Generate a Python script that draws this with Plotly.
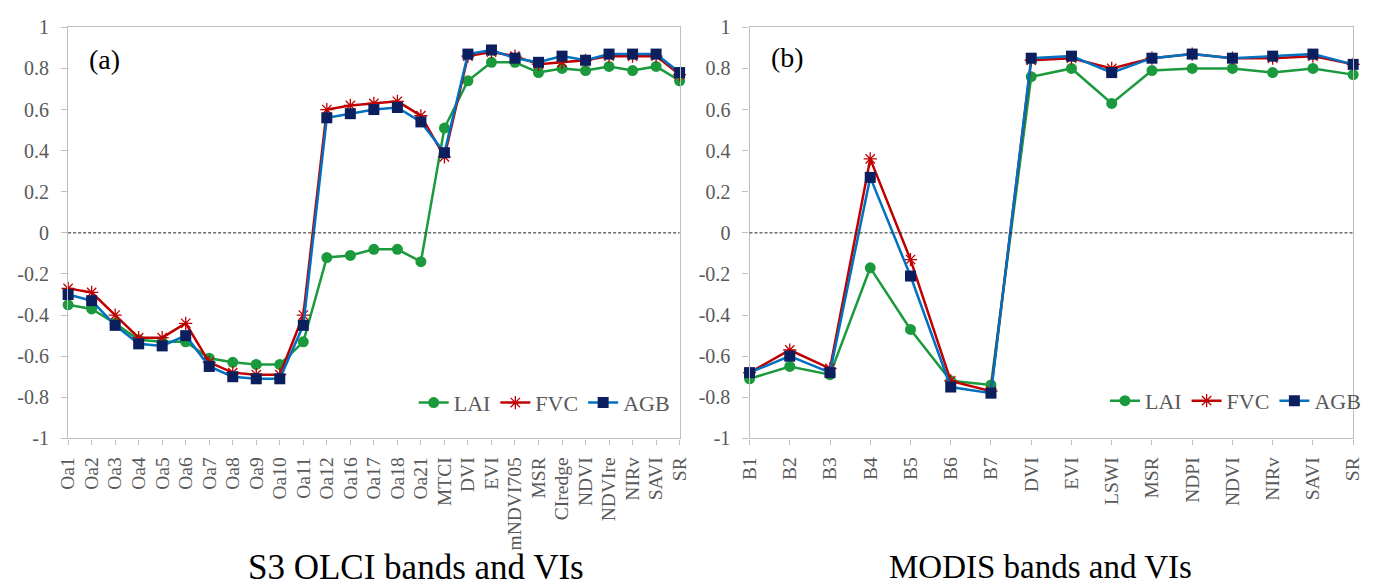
import plotly.graph_objects as go

# ---------------- data ----------------
cats_a = ["Oa1", "Oa2", "Oa3", "Oa4", "Oa5", "Oa6", "Oa7", "Oa8", "Oa9", "Oa10", "Oa11",
          "Oa12", "Oa16", "Oa17", "Oa18", "Oa21", "MTCI", "DVI", "EVI", "mNDVI705", "MSR",
          "CIredge", "NDVI", "NDVIre", "NIRv", "SAVI", "SR"]
lai_a = [-0.35, -0.37, -0.44, -0.52, -0.53, -0.53, -0.61, -0.63, -0.64, -0.64, -0.53,
         -0.12, -0.11, -0.08, -0.08, -0.14, 0.51, 0.74, 0.83, 0.83, 0.78,
         0.80, 0.79, 0.81, 0.79, 0.81, 0.74]
fvc_a = [-0.27, -0.29, -0.40, -0.51, -0.51, -0.44, -0.63, -0.68, -0.69, -0.69, -0.40,
         0.60, 0.62, 0.63, 0.64, 0.57, 0.37, 0.86, 0.88, 0.86, 0.82,
         0.83, 0.84, 0.86, 0.86, 0.86, 0.77]
agb_a = [-0.30, -0.33, -0.45, -0.54, -0.55, -0.50, -0.65, -0.70, -0.71, -0.71, -0.45,
         0.56, 0.58, 0.60, 0.61, 0.54, 0.39, 0.87, 0.89, 0.85, 0.83,
         0.86, 0.84, 0.87, 0.87, 0.87, 0.78]

cats_b = ["B1", "B2", "B3", "B4", "B5", "B6", "B7", "DVI", "EVI", "LSWI", "MSR",
          "NDPI", "NDVI", "NIRv", "SAVI", "SR"]
lai_b = [-0.71, -0.65, -0.69, -0.17, -0.47, -0.72, -0.74, 0.76, 0.80, 0.63, 0.79,
         0.80, 0.80, 0.78, 0.80, 0.77]
fvc_b = [-0.68, -0.57, -0.66, 0.36, -0.13, -0.72, -0.77, 0.84, 0.85, 0.80, 0.85,
         0.87, 0.85, 0.85, 0.86, 0.82]
agb_b = [-0.68, -0.60, -0.68, 0.27, -0.21, -0.75, -0.78, 0.85, 0.86, 0.78, 0.85,
         0.87, 0.85, 0.86, 0.87, 0.82]

y_ticks = [1, 0.8, 0.6, 0.4, 0.2, 0, -0.2, -0.4, -0.6, -0.8, -1]
y_ticktext = ["1", "0.8", "0.6", "0.4", "0.2", "0", "-0.2", "-0.4", "-0.6", "-0.8", "-1"]

series_names = ["LAI", "FVC", "AGB"]
panel_labels = ["(a)", "(b)"]
axis_titles = ["S3 OLCI bands and VIs", "MODIS bands and VIs"]

# ---------------- styles ----------------
FONT = "Liberation Serif, Times New Roman, serif"
GREEN = "#1a9a3c"
RED = "#c00000"
BLUE = "#0070c0"
NAVY = "#0b1f5e"
AX = "#bfbfbf"
TXT = "#595959"

fig = go.Figure()


def add_panel(cats, lai, fvc, agb, xa, ya, leg):
    fig.add_trace(go.Scatter(
        x=cats, y=lai, name=series_names[0], mode="lines+markers",
        line=dict(color=GREEN, width=2.5),
        marker=dict(symbol="circle", size=11, color=GREEN),
        xaxis=xa, yaxis=ya, legend=leg, cliponaxis=False))
    fig.add_trace(go.Scatter(
        x=cats, y=fvc, name=series_names[1], mode="lines+markers",
        line=dict(color=RED, width=2.5),
        marker=dict(symbol="asterisk-open", size=11, color=RED,
                    line=dict(color=RED, width=1.3)),
        xaxis=xa, yaxis=ya, legend=leg, cliponaxis=False))
    fig.add_trace(go.Scatter(
        x=cats, y=agb, name=series_names[2], mode="lines+markers",
        line=dict(color=BLUE, width=2.5),
        marker=dict(symbol="square", size=11, color=NAVY),
        xaxis=xa, yaxis=ya, legend=leg, cliponaxis=False))


add_panel(cats_a, lai_a, fvc_a, agb_a, "x", "y", "legend")
add_panel(cats_b, lai_b, fvc_b, agb_b, "x2", "y2", "legend2")

W, H = 1373, 588
xa_dom = [58 / W, 679 / W]
xb_dom = [750 / W, 1363 / W]
y_dom = [1 - 444 / H, 1 - 17 / H]

common_x = dict(type="category", showline=True, linecolor=AX, linewidth=1.3, mirror=True,
                showgrid=False, zeroline=False, ticks="outside", ticklen=5, tickcolor=AX,
                tickangle=-90, tickfont=dict(family=FONT, size=19.5, color=TXT),
                ticklabelstandoff=5, tickmode="array")
common_y = dict(range=[-1, 1], showline=True, linecolor=AX, linewidth=1.3, mirror=True,
                showgrid=False, zeroline=False, ticks="outside", ticklen=6, tickcolor=AX,
                tickvals=y_ticks, ticktext=y_ticktext,
                tickfont=dict(family=FONT, size=20, color=TXT), ticklabelstandoff=8)

legend_common = dict(orientation="h", yanchor="middle", xanchor="right",
                     font=dict(family=FONT, size=22, color=TXT),
                     bgcolor="rgba(0,0,0,0)", itemwidth=30, tracegroupgap=0)

fig.update_layout(
    width=W, height=H, autosize=False,
    margin=dict(l=0, r=0, t=0, b=0),
    paper_bgcolor="white", plot_bgcolor="white",
    font=dict(family=FONT),
    xaxis=dict(domain=xa_dom, range=[0, len(cats_a) - 1], anchor="y",
               tickvals=cats_a, ticktext=cats_a, **common_x),
    yaxis=dict(domain=y_dom, anchor="x", **common_y),
    xaxis2=dict(domain=xb_dom, range=[0, len(cats_b) - 1], anchor="y2",
                tickvals=cats_b, ticktext=cats_b, **common_x),
    yaxis2=dict(domain=y_dom, anchor="x2", **common_y),
    legend=dict(x=674 / W, y=1 - 407 / H, **legend_common),
    legend2=dict(x=1376 / W, y=1 - 405 / H, **legend_common),
    showlegend=True,
)

# dashed zero lines
for xr, yr in (("x domain", "y"), ("x2 domain", "y2")):
    fig.add_shape(type="line", xref=xr, yref=yr, x0=0, x1=1, y0=0, y1=0,
                  line=dict(color="#222222", width=1, dash="3px,2px"), layer="above")

# panel labels
fig.add_annotation(text=panel_labels[0], x=95 / W, y=1 - 50 / H, xref="paper", yref="paper",
                   xanchor="center", yanchor="middle",
                   showarrow=False, font=dict(family=FONT, size=28, color="black"))
fig.add_annotation(text=panel_labels[1], x=789 / W, y=1 - 48 / H, xref="paper", yref="paper",
                   xanchor="center", yanchor="middle",
                   showarrow=False, font=dict(family=FONT, size=28, color="black"))

# axis titles
fig.add_annotation(text=axis_titles[0], x=411 / W, y=1 - 578 / H, xref="paper", yref="paper",
                   xanchor="center", yanchor="middle",
                   showarrow=False, font=dict(family=FONT, size=35, color="black"))
fig.add_annotation(text=axis_titles[1], x=1045 / W, y=1 - 578 / H, xref="paper", yref="paper",
                   xanchor="center", yanchor="middle",
                   showarrow=False, font=dict(family=FONT, size=33, color="black"))

fig.write_html("out.html")
